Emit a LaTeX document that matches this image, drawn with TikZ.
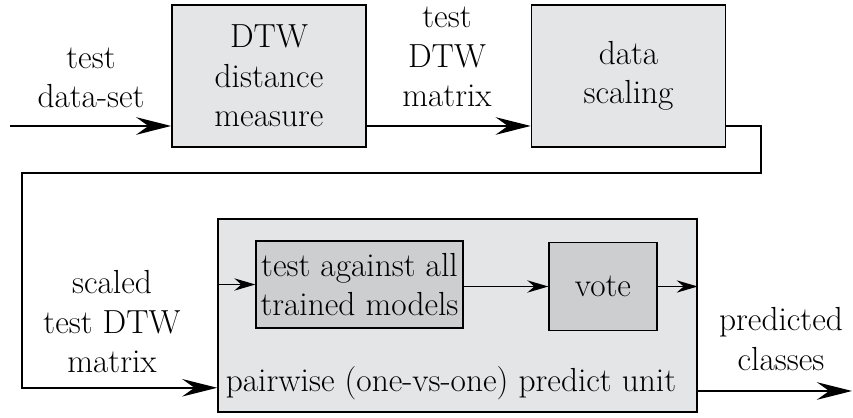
\documentclass[tikz,border=0pt]{standalone}
\usepackage{tikz}
\usepackage{xcolor}
\usetikzlibrary{arrows.meta,positioning}

\definecolor{boxgray}{RGB}{228,229,231}
\definecolor{innergray}{RGB}{205,206,208}

\begin{document}
\begin{tikzpicture}[x=0.02cm, y=-0.02cm, node distance=3.28cm,
        font=\fontsize{19}{22.5}\selectfont]
            \tikzstyle{block} = [rectangle, draw, line width=0.9pt, fill=boxgray, align=center, minimum width=3.88cm, minimum height=2.84cm]
            \tikzstyle{inner} = [rectangle, draw, line width=0.7pt, fill=innergray, align=center, inner xsep=2pt, minimum height=1.76cm]
            \tikzstyle{label} = [align=center, inner sep=0pt]
            \tikzstyle{arrow} = [line width=0.9pt, -{Stealth[length=20pt, width=10pt, inset=7pt]}]
            \tikzstyle{small} = [line width=0.7pt, -{Stealth[length=12pt, width=7pt, inset=4pt]}]

            \useasboundingbox (0,0) rectangle (853,418);

            \node [block] (dtw) at (269,76) {DTW\\distance\\measure};
            \node [block, right=of dtw] (scaling) {data\\scaling};
            \node [block, minimum width=9.58cm, minimum height=3.86cm] (predict) at (457.5,315.5) {};
            \node [inner, minimum width=4.14cm, minimum height=1.74cm] (test) at (359.5,284.5) {test against all\\trained models};
            \node [inner, minimum width=2.16cm] (vote) at (603,286.5) {vote};

            \coordinate (in) at (10,126);
            \coordinate (turn) at (761,173);
            \coordinate (back) at (22,173);
            \coordinate (out) at (852,391);

            \draw [arrow] (in) -- (dtw.west |- in);
            \draw [arrow] (dtw.east |- in) -- (scaling.west |- in);
            \draw [arrow] (scaling.east |- in) -| (turn) -- (back) |- ([yshift=0.5cm]predict.south west);
            \draw [small] (predict.west |- test) -- (test);
            \draw [small] (test.east |- vote) -- (vote);
            \draw [small] (vote) -- (vote -| predict.east);
            \draw [arrow] (predict.east |- out) -- (out);

            \node [label] (lin) at (91,78) {test\\data-set};
            \node [label] (lmat) at (447,57) {test\\DTW\\matrix};
            \node [label] (lscaled) at (112,322) {scaled\\test DTW\\matrix};
            \node [label] (lpred) at (781,339) {predicted\\classes};
            \node [label] (lunit) at (451,383) {pairwise (one-vs-one) predict unit};
        \end{tikzpicture}
\end{document}
